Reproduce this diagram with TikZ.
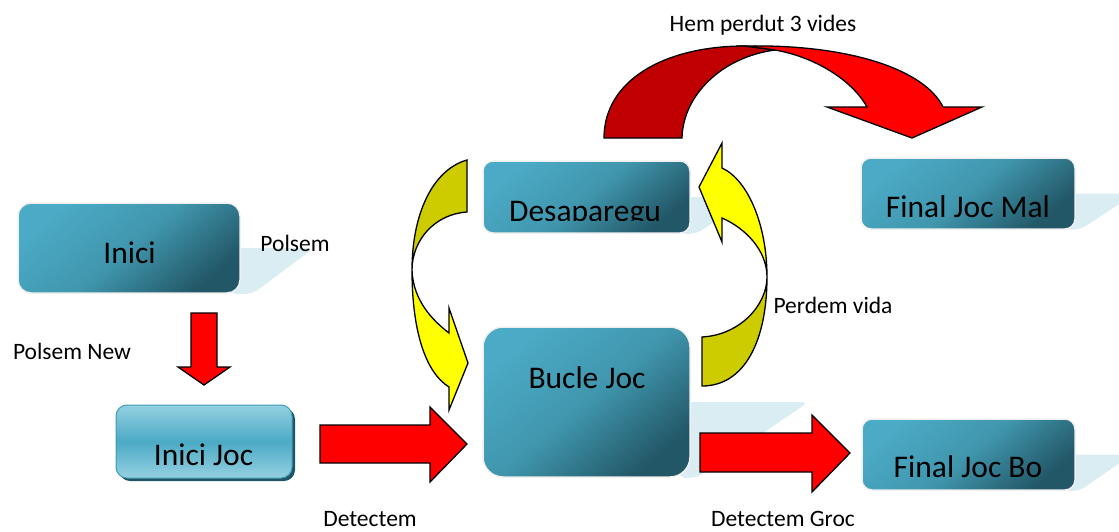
\documentclass[tikz,border=0pt]{standalone}
\usepackage{fontspec}
\setmainfont{Carlito}
\usetikzlibrary{backgrounds}

\definecolor{tealL}{HTML}{4BAAC6}
\definecolor{tealM}{HTML}{4096AD}
\definecolor{tealD}{HTML}{225767}
\definecolor{glossL}{HTML}{94D0E1}
\definecolor{glossM}{HTML}{4BAAC5}
\definecolor{glossEdge}{HTML}{3F9BB5}
\definecolor{glossShade}{HTML}{1E5465}
\definecolor{haze}{HTML}{DAEDF3}
\definecolor{redL}{HTML}{FF0000}
\definecolor{redD}{HTML}{C00000}
\definecolor{yelL}{HTML}{FFFF00}
\definecolor{yelD}{HTML}{CCCC00}

\begin{document}
\begin{tikzpicture}[x=1pt, y=-1pt,
  tealbox/.style={rectangle, inner sep=0pt, draw=black!6, line width=1.5pt,
    top color=tealL, bottom color=tealD, middle color=tealM, shading angle=40},
  glossbox/.style={rectangle, inner sep=0pt, rounded corners=11pt, draw=glossEdge,
    line width=1pt, top color=glossL, bottom color=glossL, middle color=glossM},
  glossshade/.style={rectangle, inner sep=0pt, rounded corners=11pt, fill=glossShade},
  boxtext/.style={font=\fontsize{31.5}{33}\selectfont, inner sep=0pt, anchor=base},
  lab/.style={font=\fontsize{23.5}{25}\selectfont, inner sep=0pt, anchor=base},
  hazefill/.style={fill=haze, rounded corners=7pt},
  blockarrow/.style={draw=black, line width=1.3pt, line join=miter, miter limit=20},
]
\useasboundingbox (0,0) rectangle (1119,531);

% ---- state boxes ----
\node[tealbox, rounded corners=13pt, minimum width=222pt, minimum height=90pt] (inici) at (129,248) {};
\node[glossshade, minimum width=176pt, minimum height=73pt] (iniciJocShade) at (207,444.5) {};
\node[glossbox, minimum width=176pt, minimum height=73pt] (iniciJoc) at (204,441.5) {};
\node[tealbox, rounded corners=10pt, minimum width=207pt, minimum height=72pt] (desap) at (586.5,197) {};
\node[tealbox, rounded corners=20pt, minimum width=207pt, minimum height=150pt] (bucle) at (586.5,402) {};
\node[tealbox, rounded corners=10pt, minimum width=214pt, minimum height=71pt] (finalMal) at (968,193.5) {};
\node[tealbox, rounded corners=10pt, minimum width=213pt, minimum height=71pt] (finalBo) at (968.5,454.5) {};

% ---- soft reflections behind the boxes ----
\begin{scope}[on background layer]
  \fill[hazefill] ([xshift=-12pt]inici.east) -- ([xshift=73pt]inici.east)
    -- ([xshift=12pt]inici.south east) -- ([xshift=-12pt]inici.south east) -- cycle;
  \fill[hazefill] ([xshift=-12pt]desap.east) -- ([xshift=60pt]desap.east)
    -- ([xshift=6pt]desap.south east) -- ([xshift=-12pt]desap.south east) -- cycle;
  \fill[hazefill] ([xshift=-12pt]bucle.east) -- ([xshift=118pt]bucle.east)
    -- ([xshift=6pt]bucle.south east) -- ([xshift=-12pt]bucle.south east) -- cycle;
  \fill[hazefill] ([xshift=-12pt]finalMal.east) -- ([xshift=60pt]finalMal.east)
    -- ([xshift=4pt]finalMal.south east) -- ([xshift=-12pt]finalMal.south east) -- cycle;
  \fill[hazefill] ([xshift=-12pt]finalBo.east) -- ([xshift=56pt]finalBo.east)
    -- ([xshift=4pt]finalBo.south east) -- ([xshift=-12pt]finalBo.south east) -- cycle;
\end{scope}

% ---- box captions ----
\node[boxtext] (iniciT) at (129.5,263) {Inici};
\node[boxtext] (iniciJocT) at (203.5,465) {Inici Joc};
\begin{scope}
  \clip (483,150) rectangle (690,220.5);
  \node[boxtext] (desapT) at (585,221.5) {Desaparegu};
\end{scope}
\node[boxtext] (bucleT) at (587,388) {Bucle Joc};
\node[boxtext] (finalMalT) at (968,217) {Final Joc Mal};
\node[boxtext] (finalBoT) at (968,477) {Final Joc Bo};

% ---- curved yellow arrow: Desaparegu -> Bucle Joc ----
\path[blockarrow, fill=yelD] (467,160) .. controls (432,170) and (412,215) .. (412,270)
  .. controls (412,240) and (435,214) .. (467,212) -- cycle;
\path[blockarrow, fill=yelL] (412,270) .. controls (412,330) and (425,372) .. (449,387)
  -- (449,410) -- (468,363) -- (449,308) -- (449,333)
  .. controls (432,320) and (413,300) .. (412,270) -- cycle;

% ---- curved yellow arrow: Bucle Joc -> Desaparegu ----
\path[blockarrow, fill=yelD] (702,386) .. controls (745,386) and (767,340) .. (767,277)
  .. controls (767,305) and (740,335) .. (702,337) -- cycle;
\path[blockarrow, fill=yelL] (767,277) .. controls (767,225) and (748,180) .. (722,168)
  -- (722,143) -- (699,187) -- (722,242) -- (722,218)
  .. controls (745,228) and (767,250) .. (767,277) -- cycle;

% ---- curved red arrow over the top ----
\path[blockarrow, fill=redD] (604,138) .. controls (604,80) and (665,46) .. (745,46)
  -- (775,50) .. controls (722,57) and (683,95) .. (682,138) -- cycle;
\path[blockarrow, fill=redL] (745,46) .. controls (850,44) and (925,70) .. (943,107)
  -- (982,107) -- (912,138) -- (827,107) -- (867,107)
  .. controls (852,80) and (815,57) .. (775,50) -- cycle;

% ---- straight red arrows ----
\path[blockarrow, fill=redL] (191,313) -- (217,313) -- (217,367) -- (230,367)
  -- (204,385) -- (178,367) -- (191,367) -- cycle;
\path[blockarrow, fill=redL] (320,425) -- (430,425) -- (430,407) -- (467,444)
  -- (430,482) -- (430,463) -- (320,463) -- cycle;
\path[blockarrow, fill=redL] (700,433) -- (812,433) -- (812,415) -- (850,453)
  -- (812,492) -- (812,472) -- (700,472) -- cycle;

% ---- transition labels ----
\node[lab] (lPolsem) at (295,251) {Polsem};
\node[lab] (lPolsemNew) at (72,359) {Polsem New};
\node[lab] (lDetectem) at (370,526) {Detectem};
\node[lab] (lDetectemGroc) at (783,526) {Detectem Groc};
\node[lab] (lPerdem) at (833,313) {Perdem vida};
\node[lab] (lHem) at (763,31) {Hem perdut 3 vides};
\end{tikzpicture}
\end{document}
